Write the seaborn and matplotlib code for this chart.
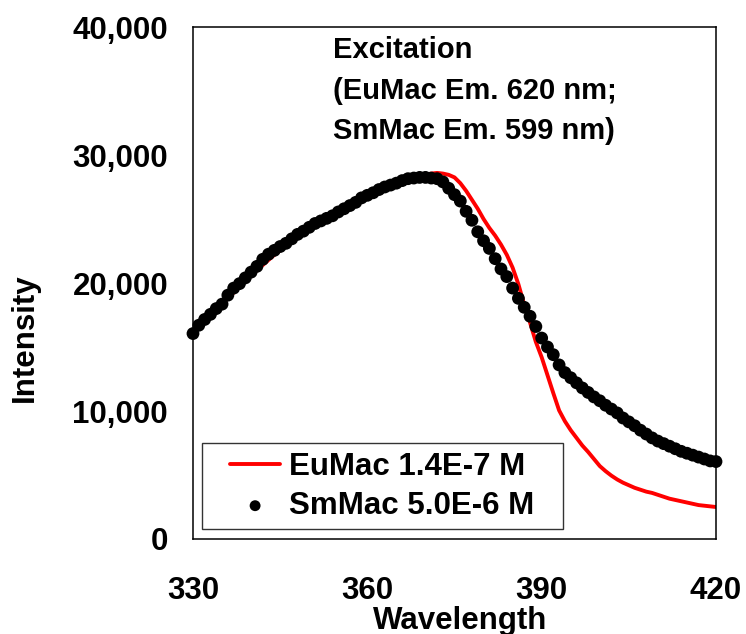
import numpy as np
import pandas as pd
import matplotlib
matplotlib.use("Agg")
import matplotlib.pyplot as plt
from matplotlib.path import Path
from matplotlib.ticker import FuncFormatter
import seaborn as sns

# ---------------- data ----------------
wavelength = list(range(330, 421))

eumac_intensity = [
    16100, 16550, 17000, 17450, 17900, 18350, 18800, 19250, 19700, 20150,
    20550, 21000, 21400, 21800, 22200, 22550, 22900, 23250, 23550, 23900,
    24200, 24500, 24800, 25050, 25300, 25550, 25800, 26050, 26300, 26550,
    26750, 27000, 27200, 27400, 27600, 27800, 27950, 28100, 28250, 28350,
    28450, 28550, 28600, 28550, 28450, 28250, 27800, 27200, 26500, 25800,
    25000, 24300, 23700, 23000, 22200, 21200, 19900, 18300, 16900, 15400,
    14200, 12800, 11400, 10050, 9200, 8500, 7900, 7300, 6800, 6250,
    5700, 5300, 4950, 4650, 4400, 4200, 4000, 3850, 3700, 3600,
    3450, 3300, 3150, 3050, 2950, 2850, 2750, 2650, 2600, 2550,
    2500,
]

smmac_intensity = [
    16050, 16700, 17150, 17550, 18000, 18350, 19050, 19600, 19950, 20400,
    20850, 21300, 21850, 22250, 22550, 22850, 23100, 23450, 23800, 24050,
    24350, 24650, 24850, 25050, 25250, 25550, 25800, 26050, 26300, 26650,
    26850, 27050, 27300, 27500, 27650, 27800, 28000, 28150, 28200, 28250,
    28250, 28200, 28150, 27900, 27400, 26900, 26400, 25600, 24900, 24000,
    23300, 22700, 21900, 21100, 20500, 19600, 18800, 18100, 17400, 16600,
    15700, 15000, 14400, 13600, 13000, 12600, 12200, 11800, 11450, 11100,
    10800, 10450, 10150, 9850, 9450, 9150, 8850, 8500, 8200, 7900,
    7650, 7450, 7250, 7050, 6850, 6700, 6550, 6400, 6250, 6100,
    6050,
]

series_labels = ["EuMac 1.4E-7 M", "SmMac 5.0E-6 M"]
x_ticks = [330, 360, 390, 420]
y_ticks = [0, 10000, 20000, 30000, 40000]
annotation_text = "Excitation\n(EuMac Em. 620 nm;\nSmMac Em. 599 nm)"
x_label = "Wavelength"
y_label = "Intensity"

df_eu = pd.DataFrame({"Wavelength": wavelength, "Intensity": eumac_intensity})
df_sm = pd.DataFrame({"Wavelength": wavelength, "Intensity": smmac_intensity})

# ---------------- style ----------------
sns.set_style("white")
plt.rcParams["font.family"] = ["Liberation Sans", "DejaVu Sans"]
plt.rcParams["font.weight"] = "bold"
plt.rcParams["axes.labelweight"] = "bold"
plt.rcParams["text.color"] = "black"
plt.rcParams["axes.labelcolor"] = "black"
plt.rcParams["xtick.color"] = "black"
plt.rcParams["ytick.color"] = "black"
plt.rcParams["legend.labelcolor"] = "black"

FS = 22.5

fig = plt.figure(figsize=(7.46, 6.34), dpi=100)
ax = fig.add_axes([193 / 746, 1 - 539 / 634, (716 - 193) / 746, (539 - 27) / 634])

sns.lineplot(data=df_eu, x="Wavelength", y="Intensity", ax=ax, color="#ff0000",
             linewidth=2.8, label=series_labels[0], zorder=2)
sns.scatterplot(data=df_sm, x="Wavelength", y="Intensity", ax=ax, color="black",
                s=85, edgecolor="none", linewidth=0, label=series_labels[1],
                zorder=3, clip_on=False)

ax.set_xlim(330, 420)
ax.set_ylim(0, 40000)
ax.set_xticks(x_ticks)
ax.set_yticks(y_ticks)
ax.yaxis.set_major_formatter(FuncFormatter(lambda v, p: f"{int(v):,}"))

for sp in ax.spines.values():
    sp.set_visible(True)
    sp.set_color("black")
    sp.set_linewidth(1.1)

ax.tick_params(axis="x", direction="out", length=6.5, width=1.1, color="black",
               labelcolor="black", pad=20, labelsize=FS)
ax.tick_params(axis="y", direction="out", length=6.5, width=1.1, color="black",
               labelcolor="black", pad=11.5, labelsize=FS)
for lab in ax.get_xticklabels() + ax.get_yticklabels():
    lab.set_fontweight("bold")

ax.set_xlabel(x_label, fontsize=FS, fontweight="bold", color="black")
ax.set_ylabel(y_label, fontsize=FS, fontweight="bold", color="black")
ax.xaxis.set_label_coords(0.5105, -0.131)
ax.yaxis.set_label_coords(-0.293, 0.3926)

ax.text(0.268, 0.982, annotation_text, transform=ax.transAxes, ha="left", va="top",
        fontsize=21, fontweight="bold", linespacing=1.57, color="black")

# legend
leg = ax.legend(loc="lower left", bbox_to_anchor=(0.0554, 0.0195), borderaxespad=0,
                prop={"weight": "bold", "size": FS},
                handlelength=1.6, handletextpad=0.29, borderpad=0.26,
                labelspacing=0.3, fancybox=False, framealpha=1,
                edgecolor="#333333", markerscale=0.85)
leg.get_frame().set_linewidth(1.0)
for t in leg.get_texts():
    t.set_color("black")


def wide_box(x0, y0, width, height, mutation_size):
    dx = 0.64 * mutation_size
    return Path([(x0 - dx, y0), (x0 + width + dx, y0), (x0 + width + dx, y0 + height),
                 (x0 - dx, y0 + height), (x0 - dx, y0)], closed=True)


leg.get_frame().set_boxstyle(wide_box)

fig.savefig("out.png", dpi=100)
